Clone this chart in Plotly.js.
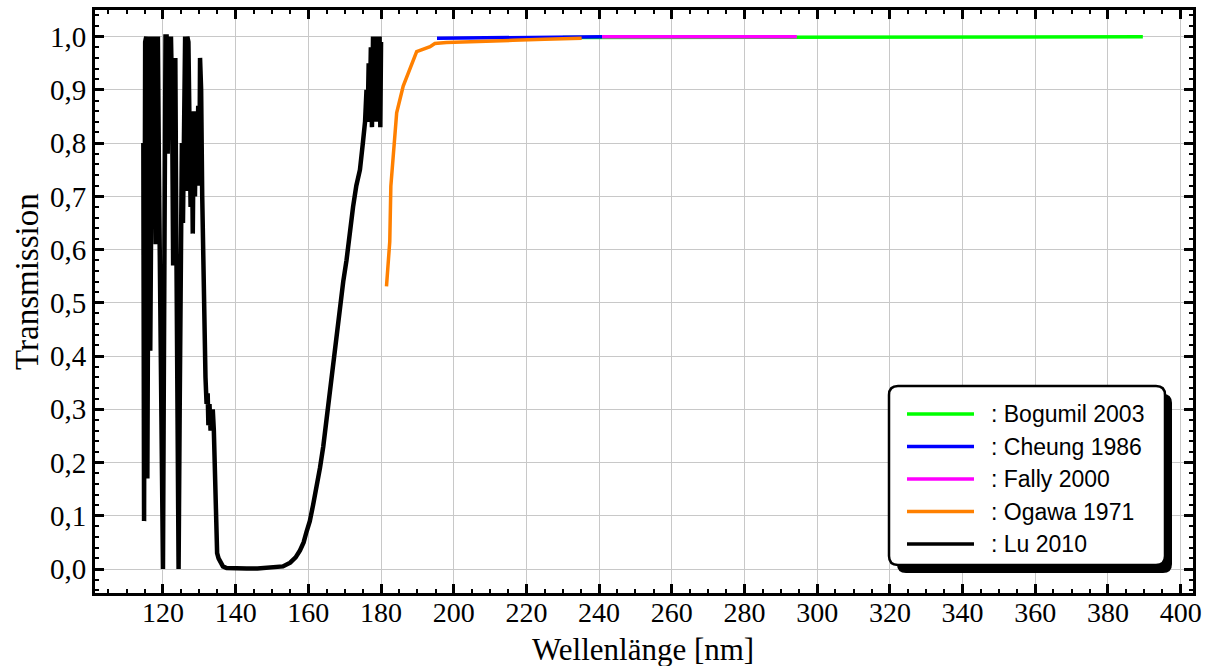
<!DOCTYPE html>
<html>
<head>
<meta charset="utf-8">
<script src="https://cdn.plot.ly/plotly-3.0.1.min.js"></script>
<style>html,body{margin:0;padding:0;background:#fff;}#chart{width:1218px;height:666px;}</style>
</head>
<body>
<div id="chart"></div>
<script>
// ---- Data ----
var seriesNames = ["Bogumil 2003", "Cheung 1986", "Fally 2000", "Ogawa 1971", "Lu 2010"];
var seriesColors = ["#00ff00", "#0000ff", "#ff00ff", "#ff8000", "#000000"];

var bogumilWl = [230, 260, 294.4, 320, 350, 389.6];
var bogumilT  = [0.9985, 0.999, 0.9995, 0.9997, 0.9998, 0.9998];

var cheungWl = [195.4, 200, 210, 220, 230, 240.8];
var cheungT  = [0.9968, 0.9972, 0.998, 0.9986, 0.9992, 0.9998];

var fallyWl = [240.8, 250, 260, 270, 280, 294.4];
var fallyT  = [0.9998, 0.9998, 0.9999, 0.9999, 0.9999, 0.9999];

var ogawaWl = [181.5, 182.4, 182.7, 184.3, 186.1, 188.8, 189.8, 193.5, 194.8, 198.0, 205.0, 216.3, 225.0, 235.2];
var ogawaT  = [0.531, 0.615, 0.719, 0.857, 0.907, 0.957, 0.972, 0.981, 0.987, 0.989, 0.991, 0.993, 0.995, 0.997];

var luWl = [114.6,114.8,115.1,115.4,115.7,115.9,116.2,116.5,116.8,117.1,117.4,117.7,118.0,118.3,118.6,118.9,119.2,119.5,119.8,120.0,
  120.2,120.5,120.7,121.0,121.3,121.6,121.9,122.2,122.5,122.8,123.1,123.4,123.7,123.9,124.1,124.3,124.6,124.9,125.2,125.5,
  125.8,126.1,126.4,126.7,127.0,127.3,127.6,127.9,128.2,128.5,128.8,129.1,129.4,129.7,130.0,130.2,130.5,130.8,131.1,131.4,
  131.7,132.0,132.3,132.5,132.8,133.1,133.4,133.7,134.0,134.3,134.6,134.9,135.3,135.8,136.5,137.5,140,143,146,149,
  151,153,155,156.5,157.7,158.7,159.5,160.4,161.3,162.2,163.2,164.1,165.0,166.0,166.9,167.8,168.7,169.6,170.5,171.4,
  172.3,173.2,174.2,175.0,175.6,176.0,176.3,176.6,176.9,177.2,177.5,177.8,178.1,178.4,178.7,179.0,179.3,179.6,179.8,180.0];
var luT = [0.80,0.09,0.99,1.00,0.17,0.96,1.00,0.41,0.95,1.00,0.72,1.00,0.61,0.99,1.00,0.74,0.52,0.25,0.05,0.00,
  0.30,0.80,1.00,1.00,0.78,1.00,0.93,1.00,0.89,0.57,0.85,0.96,0.60,0.20,0.00,0.00,0.30,0.62,0.80,0.65,
  1.00,1.00,0.71,1.00,0.99,0.86,0.68,0.85,0.63,0.86,0.70,0.85,0.74,0.87,0.72,0.96,0.90,0.70,0.55,0.43,
  0.36,0.31,0.33,0.27,0.31,0.26,0.30,0.30,0.26,0.20,0.08,0.03,0.02,0.015,0.005,0.002,0.001,0.001,0.001,0.002,
  0.003,0.005,0.012,0.022,0.035,0.05,0.07,0.09,0.12,0.15,0.19,0.23,0.28,0.34,0.39,0.45,0.50,0.54,0.58,0.64,
  0.68,0.72,0.75,0.80,0.84,0.90,0.84,0.95,0.86,0.98,0.83,1.00,0.86,1.00,0.84,1.00,0.88,1.00,0.83,0.99];

var xTitle = "Wellenlänge [nm]";
var yTitle = "Transmission";

// ---- Traces ----
var allX = [bogumilWl, cheungWl, fallyWl, ogawaWl, luWl];
var allY = [bogumilT, cheungT, fallyT, ogawaT, luT];
var widths = [3.5, 3.5, 3.5, 3.5, 4.5];
var traces = [];
for (var i = 0; i < seriesNames.length; i++) {
  traces.push({
    type: "scatter", mode: "lines", name: seriesNames[i],
    x: allX[i], y: allY[i],
    line: {color: seriesColors[i], width: widths[i]},
    showlegend: false, hoverinfo: "skip"
  });
}

// ---- Layout geometry (pixels) ----
var W = 1218, H = 666;
var mL = 95, mR = 25, mT = 10, mB = 73;
var pw = W - mL - mR, ph = H - mT - mB;
function px(xp) { return (xp - mL) / pw; }
function py(yp) { return (H - mB - yp) / ph; }
function roundRect(x0, y0, x1, y1, r) {
  var rx = r / pw, ry = r / ph;
  var L = px(x0), R = px(x1), T = py(y0), B = py(y1);
  return "M" + (L + rx) + "," + T + " L" + (R - rx) + "," + T +
    " Q" + R + "," + T + " " + R + "," + (T - ry) +
    " L" + R + "," + (B + ry) + " Q" + R + "," + B + " " + (R - rx) + "," + B +
    " L" + (L + rx) + "," + B + " Q" + L + "," + B + " " + L + "," + (B + ry) +
    " L" + L + "," + (T - ry) + " Q" + L + "," + T + " " + (L + rx) + "," + T + " Z";
}

var shapes = [
  {type: "path", xref: "paper", yref: "paper", layer: "above", path: roundRect(897, 394, 1172, 573, 9), fillcolor: "#000", line: {width: 0}},
  {type: "path", xref: "paper", yref: "paper", layer: "above", path: roundRect(889, 386, 1165, 565, 9), fillcolor: "#fff", line: {color: "#000", width: 2.5}}
];
var serif = "Liberation Serif, Times New Roman, serif";
var annotations = [];
var rowY = [414, 446.5, 479, 511.5, 544];
for (var k = 0; k < seriesNames.length; k++) {
  shapes.push({type: "line", xref: "paper", yref: "paper", layer: "above",
    x0: px(907), x1: px(974), y0: py(rowY[k]), y1: py(rowY[k]),
    line: {color: seriesColors[k], width: 3.5}});
  annotations.push({xref: "paper", yref: "paper", x: px(989), y: py(rowY[k]),
    xanchor: "left", yanchor: "middle", showarrow: false, text: ": " + seriesNames[k],
    font: {family: "Liberation Sans, Arial, sans-serif", size: 23, color: "#000"}});
}
// axis titles placed as text annotations
annotations.push({xref: "paper", yref: "paper", x: px(27), y: py(282),
  xanchor: "center", yanchor: "middle", showarrow: false, textangle: -90, text: yTitle,
  font: {family: serif, size: 33, color: "#000"}});
annotations.push({xref: "paper", yref: "paper", x: px(643), y: py(669),
  xanchor: "center", yanchor: "bottom", showarrow: false, text: xTitle,
  font: {family: serif, size: 31, color: "#000"}});

var layout = {
  width: W, height: H,
  margin: {l: mL, r: mR, t: mT, b: mB, pad: 0},
  paper_bgcolor: "#fff", plot_bgcolor: "#fff",
  separators: ", ",
  showlegend: false,
  xaxis: {
    range: [101.3, 403.4], tick0: 0, dtick: 20, tickformat: "d",
    ticks: "inside", ticklen: 9, tickwidth: 3, tickcolor: "#000",
    minor: {ticks: "inside", dtick: 5, ticklen: 4, tickwidth: 2, tickcolor: "#000", showgrid: false},
    showline: true, linecolor: "#000", linewidth: 3, mirror: "allticks",
    showgrid: true, gridcolor: "#c8c8c8", gridwidth: 1, zeroline: false,
    tickfont: {family: serif, size: 28, color: "#000"},
    ticklabelstandoff: -8,
    automargin: false
  },
  yaxis: {
    range: [-0.045, 1.05], tick0: 0, dtick: 0.1, tickformat: ".1f",
    ticks: "inside", ticklen: 9, tickwidth: 3, tickcolor: "#000",
    minor: {ticks: "inside", dtick: 0.02, ticklen: 4, tickwidth: 2, tickcolor: "#000", showgrid: false},
    showline: true, linecolor: "#000", linewidth: 3, mirror: "allticks",
    showgrid: true, gridcolor: "#c8c8c8", gridwidth: 1, zeroline: false,
    tickfont: {family: serif, size: 29, color: "#000"},
    automargin: false
  },
  shapes: shapes,
  annotations: annotations
};

Plotly.newPlot("chart", traces, layout, {displayModeBar: false, staticPlot: true});
</script>
</body>
</html>
